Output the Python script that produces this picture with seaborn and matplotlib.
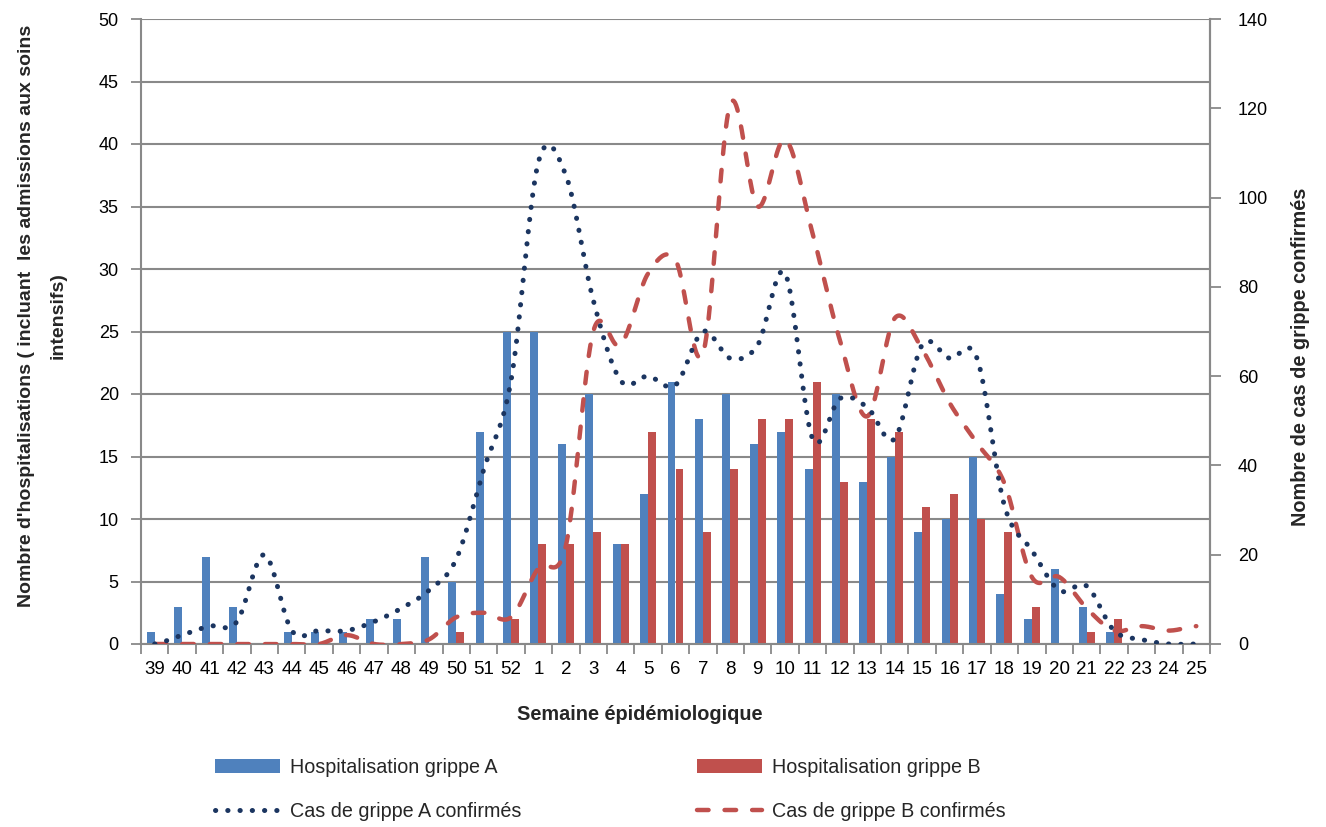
import numpy as np
import pandas as pd
import matplotlib
matplotlib.use("Agg")
import matplotlib.pyplot as plt
import seaborn as sns
from matplotlib.lines import Line2D
from matplotlib.patches import Patch

# ---------------- data ----------------
weeks = [str(w) for w in list(range(39, 53)) + list(range(1, 26))]
hosp_a = [1, 3, 7, 3, 0, 1, 1, 1, 2, 2, 7, 5, 17, 25,
          25, 16, 20, 8, 12, 21, 18, 20, 16, 17, 14, 20, 13, 15, 9, 10, 15, 4, 2, 6, 3, 1, 0, 0, 0]
hosp_b = [0, 0, 0, 0, 0, 0, 0, 0, 0, 0, 0, 1, 0, 2,
          8, 8, 9, 8, 17, 14, 9, 14, 18, 18, 21, 13, 18, 17, 11, 12, 10, 9, 3, 0, 1, 2, 0, 0, 0]
cas_a = [0, 2, 4, 5, 20, 3, 3, 3, 5, 8, 12, 19, 39, 59,
         108, 105, 77, 59, 60, 58, 70, 64, 67, 83, 46, 55, 53, 46, 67, 64, 64, 31, 21, 12, 13, 3, 1, 0, 0]
cas_b = [0, 0, 0, 0, 0, 0, 0, 2, 0, 0, 1, 6, 7, 6,
         17, 22, 70, 67, 83, 86, 65, 121, 98, 113, 92, 68, 51, 73, 66, 54, 45, 36, 15, 15, 8, 3, 4, 3, 4]

lab_ha = "Hospitalisation grippe A"
lab_hb = "Hospitalisation grippe B"
lab_ca = "Cas de grippe A confirmés"
lab_cb = "Cas de grippe B confirmés"

blue = "#4F81BD"
red = "#C0504D"
navy = "#1B3560"
gray = "#898989"

FONT = ["Liberation Sans", "DejaVu Sans"]

sns.set_theme(style="white")
plt.rcParams["font.family"] = FONT

df = pd.DataFrame({
    "week": weeks * 2,
    "value": hosp_a + hosp_b,
    "series": [lab_ha] * len(weeks) + [lab_hb] * len(weeks),
})

fig = plt.figure(figsize=(13.26, 8.27), dpi=100)
ax = fig.add_axes([141 / 1326, 1 - 644 / 827, (1210 - 141) / 1326, (644 - 19) / 827])

sns.barplot(data=df, x="week", y="value", hue="series", order=weeks,
            hue_order=[lab_ha, lab_hb], palette=[blue, red], width=0.58,
            saturation=1, linewidth=0, gap=0, legend=False, ax=ax, zorder=2)

ax.set_xlim(-0.5, len(weeks) - 0.5)
ax.set_ylim(0, 50)
ax.set_yticks(range(0, 51, 5))
ax.set_axisbelow(True)
ax.yaxis.grid(True, color=gray, linewidth=1.5)
ax.xaxis.grid(False)
ax.set_xlabel("")
ax.set_ylabel("")
for s in ["left", "bottom", "right"]:
    ax.spines[s].set_color(gray)
    ax.spines[s].set_linewidth(1.5)
ax.spines["top"].set_visible(False)

ax.set_xticks(np.arange(len(weeks)))
ax.set_xticklabels(weeks, fontsize=13.5)
ax.set_xticks(np.arange(-0.5, len(weeks), 1), minor=True)
ax.tick_params(axis="x", which="major", length=0, pad=12, colors="black")
ax.tick_params(axis="x", which="minor", length=7, width=1.3, color=gray, bottom=True)
ax.tick_params(axis="y", which="major", length=7, width=1.3, color=gray,
               labelsize=13, pad=9, left=True, labelcolor="black")


def smooth(vals, n=24):
    y = np.asarray(vals, dtype=float)
    p = np.concatenate([[y[0]], y, [y[-1]]])
    xs, ys = [], []
    for i in range(len(y) - 1):
        p0, p1, p2, p3 = p[i], p[i + 1], p[i + 2], p[i + 3]
        t = np.linspace(0, 1, n, endpoint=False)
        yy = 0.5 * ((2 * p1) + (-p0 + p2) * t + (2 * p0 - 5 * p1 + 4 * p2 - p3) * t ** 2
                    + (-p0 + 3 * p1 - 3 * p2 + p3) * t ** 3)
        xs.append(i + t)
        ys.append(yy)
    xs.append(np.array([len(y) - 1]))
    ys.append(np.array([y[-1]]))
    return np.concatenate(xs), np.concatenate(ys)


ax2 = ax.twinx()
dot_style = dict(color=navy, lw=3.6, linestyle=(0, (0.05, 2.4)), dash_capstyle="round")
dash_style = dict(color=red, lw=3.2, linestyle=(0, (2.6, 3.6)), dash_capstyle="round")
xa, ya = smooth(cas_a)
xb, yb = smooth(cas_b)
ax2.plot(xb, yb, **dash_style, zorder=3)
ax2.plot(xa, ya, **dot_style, zorder=4)
ax2.set_ylim(0, 140)
ax2.set_yticks(range(0, 141, 20))
ax2.grid(False)
for s in ["left", "bottom", "top"]:
    ax2.spines[s].set_visible(False)
ax2.spines["right"].set_color(gray)
ax2.spines["right"].set_linewidth(1.5)
ax2.tick_params(axis="y", which="major", length=8, width=1.3, color=gray,
                labelsize=13, pad=12, right=True, labelcolor="black")
ax2.set_ylabel("")

# titles
fig.text(640 / 1326, 1 - 714 / 827, "Semaine épidémiologique", ha="center", va="center",
         fontsize=14.3, fontweight="bold")
fig.text(27 / 1326, 1 - 316 / 827, "Nombre d'hospitalisations ( incluant  les admissions aux soins",
         ha="center", va="center", rotation=90, fontsize=14, fontweight="bold")
fig.text(58 / 1326, 1 - 316 / 827, "intensifs)",
         ha="center", va="center", rotation=90, fontsize=14, fontweight="bold")
fig.text(1300 / 1326, 1 - 357 / 827, "Nombre de cas de grippe confirmés",
         ha="center", va="center", rotation=90, fontsize=14.3, fontweight="bold")

handles = [
    Patch(facecolor=blue, edgecolor="none"),
    Line2D([], [], **dot_style),
    Patch(facecolor=red, edgecolor="none"),
    Line2D([], [], **dash_style),
]
labels = [lab_ha, lab_ca, lab_hb, lab_cb]
fig.legend(handles, labels, loc="upper left", bbox_to_anchor=(215 / 1326, 1 - 758 / 827),
           ncol=2, frameon=False, handlelength=3.3, handleheight=0.75, handletextpad=0.5,
           columnspacing=8.9, labelspacing=1.27, borderpad=0, borderaxespad=0,
           prop={"size": 14.2})

fig.savefig("out.png", dpi=100)
